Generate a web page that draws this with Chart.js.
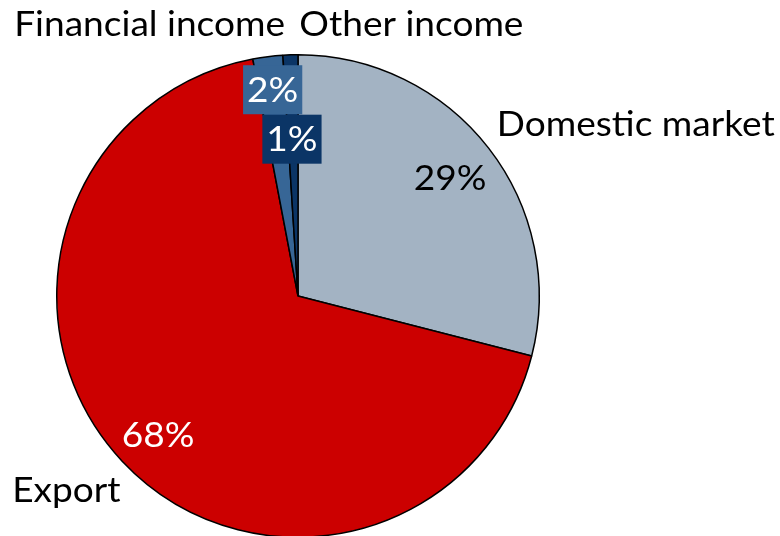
<!DOCTYPE html>
<html>
<head>
<meta charset="utf-8">
<script src="https://cdn.jsdelivr.net/npm/chart.js@4.4.0/dist/chart.umd.min.js"></script>
<style>
    html, body { margin: 0; padding: 0; background: #fff; overflow: hidden; }
    #wrap { position: relative; width: 780px; height: 540px; }
</style>
</head>
<body>
<div id="wrap"><canvas id="incomeChart"></canvas></div>
<script>
// Income split, clockwise from 12 o'clock
const categories = ['Domestic market', 'Export', 'Financial income', 'Other income'];
const shares = [29, 68, 2, 1];
const sliceColors = ['#a3b3c3', '#cc0000', '#376696', '#0b3566'];

// Where each text goes, in units of the pie radius from its centre
const labelSpots = [
    { name: [1.40, -0.71], pct: [0.63, -0.49], pctColor: '#000' },
    { name: [-0.96, 0.81], pct: [-0.58, 0.575], pctColor: '#fff' },
    { name: [-0.615, -1.125], pct: [-0.105, -0.855], pctColor: '#fff', box: true },
    { name: [0.47, -1.125], pct: [-0.025, -0.65], pctColor: '#fff', box: true }
];

const FONT = '"Lato", "Open Sans", sans-serif';
const STRETCH = 1.09; // a touch wider, closer to the deck's Calibri

function wideText(ctx, txt, x, y) {
    ctx.save();
    ctx.translate(x, y);
    ctx.scale(STRETCH, 1);
    ctx.fillText(txt, 0, 0);
    ctx.restore();
}

const sliceLabels = {
    id: 'sliceLabels',
    afterDatasetsDraw(chart) {
        const ctx = chart.ctx;
        const arc = chart.getDatasetMeta(0).data[0];
        const cx = arc.x, cy = arc.y, r = arc.outerRadius;
        ctx.save();
        ctx.textAlign = 'center';
        ctx.textBaseline = 'middle';
        ctx.font = '34px ' + FONT;
        categories.forEach((name, i) => {
            const spot = labelSpots[i];
            const px = cx + spot.pct[0] * r, py = cy + spot.pct[1] * r;
            const txt = shares[i] + '%';
            if (spot.box) {
                const w = ctx.measureText(txt).width * STRETCH + 8;
                ctx.fillStyle = sliceColors[i];
                ctx.fillRect(px - w / 2, py - 24.5, w, 49);
            }
            ctx.fillStyle = spot.pctColor;
            wideText(ctx, txt, px, py + 1);
            ctx.fillStyle = '#000';
            wideText(ctx, name, cx + spot.name[0] * r, cy + spot.name[1] * r);
        });
        ctx.restore();
    }
};

new Chart(document.getElementById('incomeChart'), {
    type: 'pie',
    data: {
        labels: categories,
        datasets: [{
            data: shares,
            backgroundColor: sliceColors,
            borderColor: '#000',
            borderWidth: 1.5
        }]
    },
    options: {
        responsive: true,
        maintainAspectRatio: false,
        animation: false,
        layout: { padding: { left: 56, right: 240, top: 54, bottom: 2 } },
        plugins: {
            legend: { display: false },
            tooltip: { enabled: false }
        }
    },
    plugins: [sliceLabels]
});
</script>
</body>
</html>
